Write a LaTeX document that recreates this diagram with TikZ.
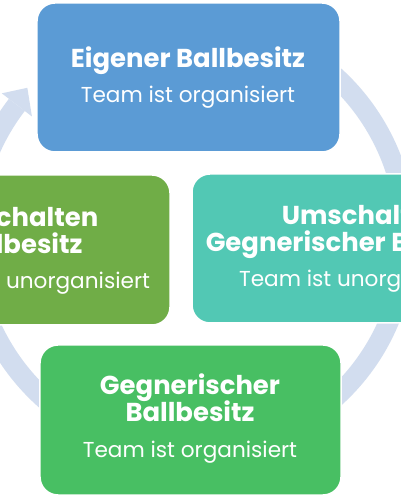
\documentclass[tikz,border=0pt]{standalone}
\usepackage{fontspec}
\setmainfont{Poppins}
\usetikzlibrary{calc}
\definecolor{ringc}{HTML}{D2DDEF}
\definecolor{cblue}{HTML}{5B9BD5}
\definecolor{cgreen}{HTML}{70AD47}
\definecolor{cteal}{HTML}{52C8B4}
\definecolor{cgreenb}{HTML}{48BF63}
\begin{document}
\begin{tikzpicture}[x=1bp,y=1bp,
  box/.style={rectangle, rounded corners=18bp, draw=white, line width=1.5bp, inner sep=0pt},
  ttl/.style={font=\fontsize{26}{28}\selectfont\bfseries, text=white, anchor=base, inner sep=0pt},
  sub/.style={font=\fontsize{21.7}{24}\selectfont, text=white, anchor=base, inner sep=0pt}]
\useasboundingbox (0,0) rectangle (400,500);
\fill[white] (0,0) rectangle (400,500);
% circular arrow behind the boxes
\coordinate (c) at (189,263);
\draw[ringc, line width=20bp] ($(c)+(120:217)$) arc[start angle=120, end angle=-217.5, radius=217];
\fill[ringc] ($(c)+(142.5:198)$) -- ($(c)+(137.3:220)$) -- ($(c)+(142.5:236)$) -- cycle;
% boxes
\node[box, fill=cblue, minimum width=303bp, minimum height=149bp] (top) at (188.5,422.5) {};
\node[box, fill=cgreen, minimum width=290bp, minimum height=150bp] (left) at (25,250) {};
\node[box, fill=cteal, minimum width=322bp, minimum height=149bp] (right) at (353,251.5) {};
\node[box, fill=cgreenb, minimum width=301bp, minimum height=150bp] (bottom) at (190.5,80) {};
% texts
\node[ttl] (t1) at (188,432) {Eigener Ballbesitz};
\node[sub] (s1) at (188,397) {Team ist organisiert};
\node[ttl] (t2a) at (17,273.5) {Umschalten};
\node[ttl] (t2b) at (18,246.5) {Ballbesitz};
\node[sub] (s2) at (29,211.5) {Team ist unorganisiert};
\node[ttl] (t3a) at (363,275) {Umschalten};
\node[ttl] (t3b) at (363,248.3) {Gegnerischer Ballbesitz};
\node[sub] (s3) at (360,213.3) {Team ist unorganisiert};
\node[ttl] (t4a) at (190,105) {Gegnerischer};
\node[ttl] (t4b) at (190,78.3) {Ballbesitz};
\node[sub] (s4) at (190,42) {Team ist organisiert};
\end{tikzpicture}
\end{document}
